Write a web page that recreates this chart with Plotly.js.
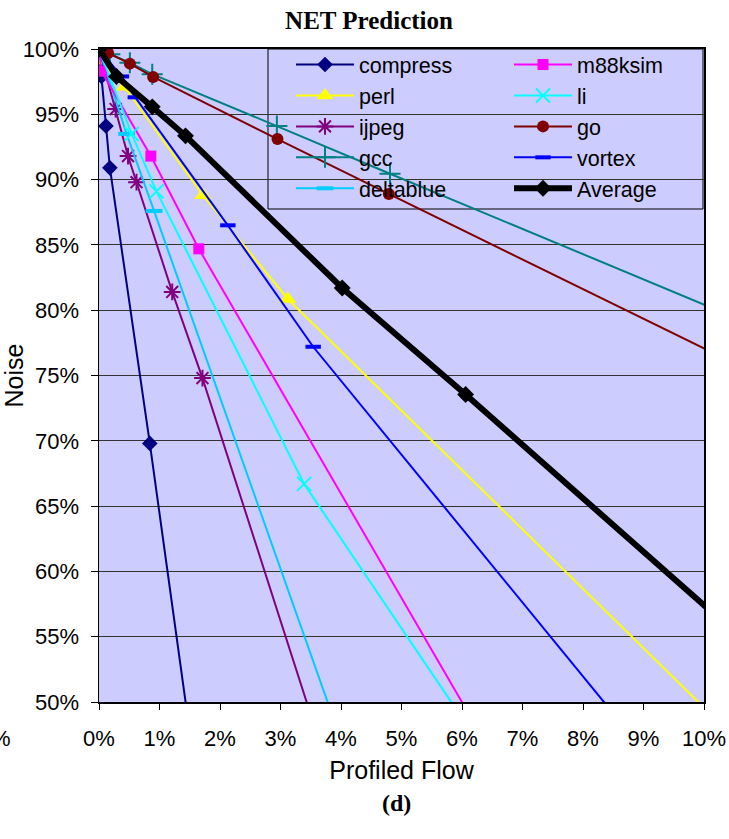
<!DOCTYPE html>
<html>
<head>
<meta charset="utf-8">
<script src="https://cdn.plot.ly/plotly-3.0.1.min.js"></script>
<style>html,body{margin:0;padding:0;background:#fff;}#chart{width:729px;height:839px;}</style>
</head>
<body>
<div id="chart"></div>
<script>
// Profiled Flow (%) and Noise (%) per benchmark
const compressX = [0, 0.01, 0.04, 0.115, 0.18, 0.84, 1.7];
const compressY = [100, 98.6, 97.9, 94.1, 90.9, 69.8, 41.0];
const perlX = [0, 0.02, 0.42, 1.72, 3.12, 10.5];
const perlY = [100, 99.1, 97.1, 88.8, 80.86, 47.3];
const ijpegX = [0, 0.275, 0.48, 0.62, 1.21, 1.71, 3.8];
const ijpegY = [100, 95.4, 91.8, 89.8, 81.4, 74.8, 44.7];
const gccX = [0, 0.18, 0.51, 0.88, 2.94, 4.81, 11];
const gccY = [100, 99.6, 98.95, 98.07, 94.1, 90.45, 78.5];
const deltablueX = [0, 0.456, 0.91, 4.0];
const deltablueY = [100, 93.5, 87.6, 47.1];
const m88ksimX = [0, 0.04, 0.857, 1.65, 6.5];
const m88ksimY = [100, 98.3, 91.8, 84.7, 46.0];
const liX = [0, 0.54, 0.95, 3.39, 6.2];
const liY = [100, 93.5, 89.1, 66.7, 47.4];
const goX = [0, 0.15, 0.51, 0.895, 2.95, 4.79, 11];
const goY = [100, 99.7, 98.88, 97.86, 93.1, 88.9, 74.8];
const vortexX = [0, 0.37, 0.60, 2.13, 3.54, 9];
const vortexY = [100, 97.9, 96.3, 86.5, 77.2, 46.3];
const averageX = [0, 0.29, 0.88, 1.43, 4.02, 6.06, 11];
const averageY = [100, 97.9, 95.57, 93.35, 81.7, 73.55, 53.3];

const xTickVals = [0,1,2,3,4,5,6,7,8,9,10];
const xTickText = ['0%','1%','2%','3%','4%','5%','6%','7%','8%','9%','10%'];
const yTickVals = [50,55,60,65,70,75,80,85,90,95,100];
const yTickText = ['50%','55%','60%','65%','70%','75%','80%','85%','90%','95%','100%'];

const FONT = 'Liberation Sans, Arial, sans-serif';
const SERIF = 'Liberation Serif, Times New Roman, serif';

function tr(name, x, y, color, symbol, size, opts) {
  opts = opts || {};
  const open = symbol.indexOf('open') >= 0;
  return {
    type: 'scatter', mode: 'lines+markers', name: name, x: x, y: y,
    line: {color: color, width: opts.lw || 2},
    marker: {symbol: symbol, size: size, color: color,
             line: {color: color, width: opts.mlw != null ? opts.mlw : (open ? 2 : 0)}},
    legend: opts.legend || 'legend'
  };
}

const data = [
  tr('compress', compressX, compressY, '#000080', 'diamond', 12),
  tr('perl', perlX, perlY, '#FFFF00', 'triangle-up', 15),
  tr('ijpeg', ijpegX, ijpegY, '#800080', 'asterisk-open', 14),
  tr('gcc', gccX, gccY, '#008080', 'cross-thin-open', 15),
  tr('deltablue', deltablueX, deltablueY, '#00CCFF', 'line-ew-open', 12, {mlw: 4}),
  tr('m88ksim', m88ksimX, m88ksimY, '#FF00FF', 'square', 11, {legend: 'legend2'}),
  tr('li', liX, liY, '#00FFFF', 'x-thin-open', 14, {legend: 'legend2'}),
  tr('go', goX, goY, '#800000', 'circle', 12, {legend: 'legend2'}),
  tr('vortex', vortexX, vortexY, '#0000FF', 'line-ew-open', 11, {mlw: 4, legend: 'legend2'}),
  tr('Average', averageX, averageY, '#000000', 'diamond', 13, {lw: 6, legend: 'legend2'})
];

const legendCommon = {
  bgcolor: 'rgba(0,0,0,0)', borderwidth: 0,
  font: {family: FONT, size: 21.5, color: '#000'},
  orientation: 'v', xanchor: 'left', yanchor: 'top',
  xref: 'paper', yref: 'paper', itemwidth: 58, tracegroupgap: 0
};

const layout = {
  width: 729, height: 839,
  margin: {l: 99, r: 25, t: 49, b: 137},
  paper_bgcolor: '#ffffff',
  plot_bgcolor: '#CCCCFF',
  font: {family: FONT, size: 22, color: '#000'},
  title: {text: '<b>NET Prediction</b>', font: {family: SERIF, size: 25, color: '#000'},
          xref: 'container', yref: 'container', x: 369/729, xanchor: 'center', y: 1 - 20/839, yanchor: 'middle'},
  showlegend: true,
  legend: Object.assign({}, legendCommon, {x: (291-99)/605, y: 1 + 5/653}),
  legend2: Object.assign({}, legendCommon, {x: (509-99)/605, y: 1 + 5/653}),
  xaxis: {
    range: [0, 10], tickvals: xTickVals, ticktext: xTickText,
    showgrid: false, zeroline: false,
    showline: true, linecolor: '#000', linewidth: 2, mirror: true,
    ticks: 'outside', ticklen: 6, tickcolor: '#000', tickwidth: 1,
    ticklabelstandoff: 10,
    tickfont: {family: FONT, size: 22},
    title: {text: 'Profiled Flow', font: {family: FONT, size: 25}, standoff: 11},
    fixedrange: true
  },
  yaxis: {
    range: [50, 100], tickvals: yTickVals, ticktext: yTickText,
    showgrid: true, gridcolor: '#333333', gridwidth: 1, zeroline: false,
    showline: true, linecolor: '#000', linewidth: 1.5, mirror: true,
    ticks: 'outside', ticklen: 7, tickcolor: '#000', tickwidth: 1,
    ticklabelstandoff: 7,
    tickfont: {family: FONT, size: 22},
    title: {text: 'Noise', font: {family: FONT, size: 25}, standoff: 0},
    fixedrange: true
  },
  shapes: [{
    type: 'rect', xref: 'paper', yref: 'paper', layer: 'between',
    x0: (268-99)/605, x1: (703-99)/605, y0: (702-209)/653, y1: 1.0,
    fillcolor: '#CCCCFF', line: {color: '#000', width: 1}
  }],
  annotations: [
    {text: '<b>(d)</b>', xref: 'paper', yref: 'paper', x: (396-99)/605, y: (702-803)/653,
     xanchor: 'center', yanchor: 'middle', showarrow: false, font: {family: SERIF, size: 24, color: '#000'}},
    {text: '%', xref: 'paper', yref: 'paper', x: (13-99)/605, y: (702-738)/653,
     xanchor: 'right', yanchor: 'middle', showarrow: false, font: {family: FONT, size: 22, color: '#000'}}
  ]
};

Plotly.newPlot('chart', data, layout, {displayModeBar: false, staticPlot: true});
</script>
</body>
</html>
